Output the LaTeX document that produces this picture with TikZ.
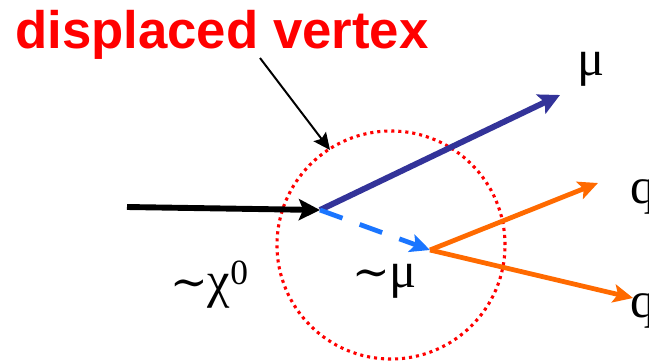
\documentclass[tikz,border=0pt]{standalone}
\usepackage{fontspec}
\setmainfont{Liberation Sans}
\newfontfamily\lblfont{Liberation Serif}
\newfontfamily\simfont{DejaVu Serif}
\usepackage{tikz}
\usetikzlibrary{arrows.meta,positioning,calc}
\definecolor{VtxRed}{HTML}{FF0000}
\definecolor{MuNavy}{HTML}{333399}
\definecolor{SMuBlue}{HTML}{1A75FF}
\definecolor{QOrange}{HTML}{FF6A00}
\newcommand{\tld}{{\simfont\fontsize{32}{34}\selectfont ∼}}

\begin{document}
\begin{tikzpicture}[
    x=0.025cm, y=-0.025cm,
    % labels
    title/.style={text=VtxRed, font=\fontsize{37.5}{40}\selectfont\bfseries, inner sep=0pt},
    lbl/.style={font=\lblfont\fontsize{36}{38}\selectfont, inner sep=0pt},
    % tracks
    trk/.style={line width=4.2pt, -{Stealth[length=15pt, width=15pt, inset=3pt]}},
    thin trk/.style={line width=3.4pt, -{Stealth[length=14pt, width=13pt, inset=3pt]}},
    pointer/.style={line width=1.4pt, -{Stealth[length=12pt, width=11pt, inset=2pt]}},
    zone/.style={circle, draw=VtxRed, line width=2.2pt, dash pattern=on 2.2pt off 2.8pt, minimum size=5.7cm, inner sep=0pt}
]
\useasboundingbox (0,0) rectangle (649,362);

% vertex region
\node[zone] (zone) at (391,245) {};

% points of the decay chain
\coordinate (vtx) at (320,210);
\coordinate (dec) at (430,250);
\coordinate (chiin) at (127,207);
\coordinate (muout) at (560,95);
\coordinate (qa) at (598,183);
\coordinate (qb) at (633,298);

% text
\node[title, anchor=base west] (title) at (15,48) {displaced vertex};
\coordinate (ptr) at (260,58);
\node[lbl, anchor=base west] (mulbl) at (577,75) {μ};
\node[lbl, anchor=base west] (chilbl) at (170,297) {\tld χ\textsuperscript{0}};
\node[lbl, anchor=base west] (smulbl) at (352,287) {\tld μ};
\node[lbl, anchor=base west] (qalbl) at (630,203) {q};
\node[lbl, anchor=base west] (qblbl) at (630,317) {q};

% tracks
\draw[trk, black] (chiin) -- (vtx);
\draw[trk, MuNavy] (vtx) -- (muout);
\draw[thin trk, SMuBlue, dash pattern=on 17pt off 13pt] (vtx) -- (dec);
\draw[thin trk, QOrange] (dec) -- (qa);
\draw[thin trk, QOrange] (dec) -- (qb);

% pointer to the vertex
\draw[pointer] (ptr) -- (330,150);
\end{tikzpicture}
\end{document}
